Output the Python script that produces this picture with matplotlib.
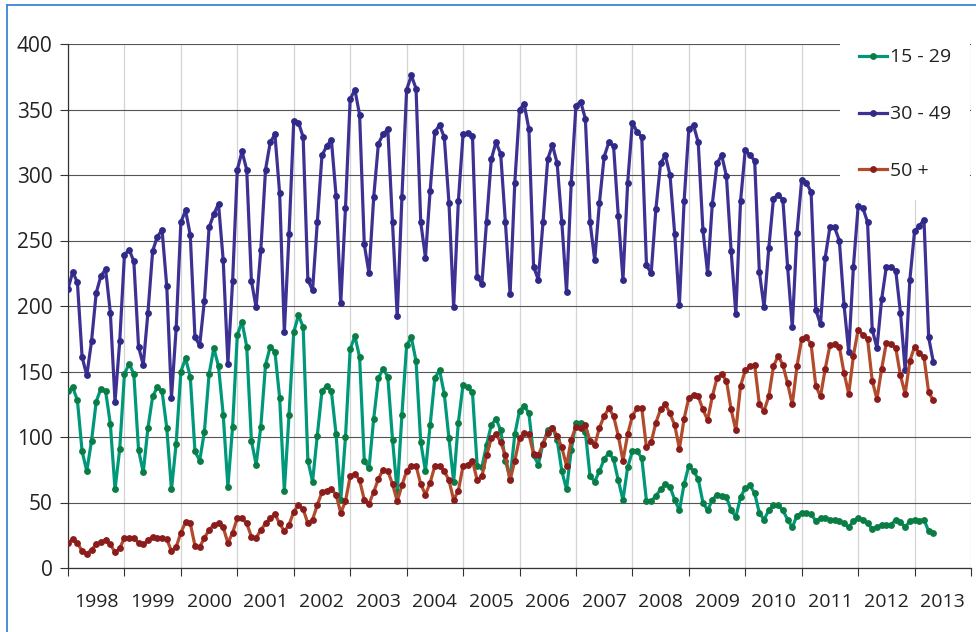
import matplotlib.pyplot as plt
import numpy as np
from matplotlib.lines import Line2D

plt.rcParams['font.family'] = ['Open Sans', 'DejaVu Sans']

years = [str(y) for y in range(1998, 2014)]

# monthly values, Jan 1998 - May 2013
age_15_29 = [
    135, 138, 128, 89, 74, 97, 127, 137, 135, 110, 60, 91,
    148, 156, 148, 90, 73, 107, 131, 138, 135, 107, 60, 95,
    150, 160, 146, 89, 82, 104, 148, 168, 154, 117, 62, 108,
    178, 188, 169, 97, 79, 108, 155, 169, 165, 130, 59, 117,
    180, 193, 184, 82, 66, 101, 135, 139, 135, 102, 52, 100,
    167, 177, 161, 82, 76, 114, 145, 152, 146, 98, 58, 117,
    170, 176, 158, 96, 74, 109, 145, 151, 133, 99, 66, 111,
    140, 138, 134, 78, 77, 94, 109, 114, 105, 82, 68, 102,
    120, 124, 118, 86, 79, 95, 105, 107, 98, 74, 60, 90,
    111, 111, 104, 70, 66, 74, 83, 88, 83, 67, 52, 77,
    89, 89, 84, 51, 51, 55, 60, 64, 62, 52, 44, 64,
    78, 74, 68, 50, 44, 52, 56, 55, 54, 44, 39, 54,
    61, 63, 57, 42, 37, 44, 48, 48, 44, 37, 31, 40,
    42, 42, 41, 36, 38, 38, 37, 37, 36, 34, 31, 36,
    38, 37, 34, 30, 31, 33, 33, 33, 37, 35, 31, 36,
    37, 36, 37, 28, 27,
]

age_30_49 = [
    213, 226, 218, 161, 147, 173, 210, 223, 228, 195, 127, 173,
    239, 243, 234, 169, 155, 195, 242, 253, 258, 215, 130, 183,
    264, 273, 254, 176, 170, 204, 260, 270, 278, 235, 156, 219,
    304, 318, 304, 219, 199, 243, 304, 325, 331, 286, 180, 255,
    341, 340, 329, 220, 212, 264, 315, 322, 327, 284, 202, 275,
    358, 365, 346, 247, 225, 283, 324, 331, 335, 264, 192, 283,
    365, 376, 366, 264, 237, 288, 333, 338, 329, 279, 199, 280,
    331, 332, 330, 222, 217, 264, 312, 325, 316, 264, 209, 294,
    350, 354, 335, 230, 220, 264, 312, 323, 309, 264, 211, 294,
    353, 356, 343, 264, 235, 279, 314, 325, 322, 269, 220, 294,
    340, 333, 329, 231, 225, 274, 309, 315, 300, 255, 201, 280,
    335, 338, 325, 258, 225, 278, 309, 315, 299, 242, 194, 280,
    319, 315, 311, 226, 199, 244, 282, 285, 281, 230, 184, 256,
    296, 294, 287, 197, 186, 237, 260, 260, 250, 201, 165, 230,
    276, 275, 264, 182, 168, 205, 230, 230, 227, 195, 151, 220,
    257, 261, 266, 176, 157,
]

age_50_plus = [
    19, 22, 19, 13, 11, 14, 18, 20, 21, 18, 12, 15,
    23, 23, 23, 19, 18, 21, 24, 23, 23, 22, 13, 16,
    27, 35, 34, 17, 16, 23, 29, 33, 34, 31, 19, 27,
    38, 38, 34, 24, 23, 29, 34, 38, 41, 34, 28, 33,
    43, 48, 45, 34, 37, 48, 58, 59, 60, 56, 42, 51,
    70, 72, 67, 52, 49, 58, 68, 75, 74, 64, 51, 63,
    74, 78, 78, 64, 56, 65, 78, 78, 74, 67, 52, 59,
    78, 79, 82, 67, 70, 86, 99, 102, 96, 86, 67, 82,
    99, 103, 102, 87, 86, 95, 103, 107, 101, 92, 78, 98,
    108, 107, 109, 97, 94, 107, 116, 122, 116, 101, 82, 102,
    116, 122, 122, 92, 96, 111, 121, 125, 118, 109, 91, 114,
    130, 132, 131, 121, 113, 131, 145, 148, 143, 121, 105, 139,
    151, 154, 155, 125, 120, 131, 154, 162, 155, 141, 125, 154,
    175, 176, 171, 139, 131, 152, 170, 171, 169, 149, 133, 162,
    182, 178, 175, 143, 129, 152, 172, 171, 168, 147, 133, 158,
    169, 164, 161, 134, 128,
]

x = np.arange(len(age_15_29))

fig = plt.figure(figsize=(9.76, 6.32), dpi=100)
ax = fig.add_axes([68/976, 1 - 568/632, 903/976, 524/632])

ax.plot(x, age_15_29, color='#00987b', lw=2.3, marker='o', ms=3.9,
        mfc='#0a7d45', mec='#0a7d45', label='15 - 29', zorder=3)
ax.plot(x, age_30_49, color='#3d3193', lw=2.3, marker='o', ms=3.9,
        mfc='#2f2a88', mec='#2f2a88', label='30 - 49', zorder=3)
ax.plot(x, age_50_plus, color='#b24a2c', lw=2.3, marker='o', ms=3.9,
        mfc='#8a1c1c', mec='#8a1c1c', label='50 +', zorder=3)

ax.set_xlim(0, 192)
ax.set_ylim(0, 400)
ax.set_yticks(range(0, 401, 50))
ax.set_xticks(range(0, 193, 12))
ax.set_xticklabels([])
ax.set_xticks(range(6, 192, 12), minor=True)
ax.set_xticklabels(years, minor=True)

ax.tick_params(axis='y', direction='out', length=6, width=0.8, color='#333333',
               labelsize=15, pad=5, labelcolor='#222222')
ax.tick_params(axis='x', which='major', direction='out', length=6, width=0.8,
               color='#333333')
ax.tick_params(axis='x', which='minor', length=0, labelsize=14, pad=18,
               labelcolor='#222222')

ax.grid(axis='y', color='#555555', lw=0.8, zorder=0)
ax.grid(axis='x', which='major', color='#d4d4d4', lw=0.9, zorder=0)
for s in ['top', 'right']:
    ax.spines[s].set_visible(False)
for s in ['left', 'bottom']:
    ax.spines[s].set_color('#333333')
    ax.spines[s].set_linewidth(0.9)

leg = ax.legend(loc='upper left', bbox_to_anchor=(840/976, 1 - 29/632),
                bbox_transform=fig.transFigure, frameon=True, fontsize=14,
                handlelength=1.4, handletextpad=0.15, labelspacing=2.0,
                borderpad=1.0, borderaxespad=0, fancybox=False)
leg.get_frame().set_facecolor('white')
leg.get_frame().set_edgecolor('none')
leg.get_frame().set_alpha(1)
for t in leg.get_texts():
    t.set_color('#222222')

# blue outer frame (top and left edges visible)
fig.add_artist(Line2D([7/976, 1], [1 - 5/632, 1 - 5/632], color='#3a86d4', lw=1.3))
fig.add_artist(Line2D([7/976, 7/976], [0, 1 - 5/632], color='#3a86d4', lw=1.3))

fig.savefig('out.png', dpi=100)
